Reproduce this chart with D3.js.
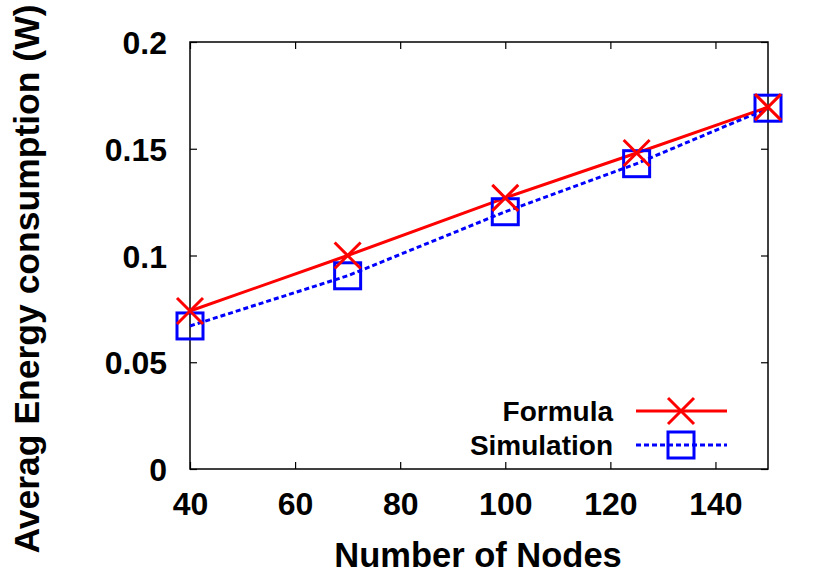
<!DOCTYPE html>
<html>
<head>
<meta charset="utf-8">
<script src="https://cdn.jsdelivr.net/npm/d3@7"></script>
<style>
  html, body { margin: 0; padding: 0; background: #fff; }
  svg text { font-family: "Liberation Sans", Arial, Helvetica, sans-serif; font-weight: bold; fill: #000; }
</style>
</head>
<body>
<svg id="chart" width="830" height="581"></svg>
<script>
const nodes = [40, 70, 100, 125, 150];
const formula = [0.074, 0.100, 0.127, 0.148, 0.1695];
const simulation = [0.067, 0.0905, 0.1205, 0.143, 0.169];
const xTicks = [40, 60, 80, 100, 120, 140];
const yTicks = [0, 0.05, 0.1, 0.15, 0.2];
const yTickLabels = ["0", "0.05", "0.1", "0.15", "0.2"];
const seriesNames = ["Formula", "Simulation"];

const svg = d3.select("#chart");
const L = 190, R = 768, T = 42, B = 469;
const x = d3.scaleLinear().domain([40, 150]).range([L, R]);
const y = d3.scaleLinear().domain([0, 0.2]).range([B, T]);
const tickLen = 7;

// frame
svg.append("rect").attr("x", L).attr("y", T).attr("width", R - L).attr("height", B - T)
  .attr("fill", "none").attr("stroke", "#000").attr("stroke-width", 1.5);

// axes with inward ticks (and mirrored)
const gx = svg.append("g").attr("transform", `translate(0,${B})`)
  .call(d3.axisBottom(x).tickValues(xTicks).tickSize(-tickLen).tickPadding(23).tickFormat(d3.format("d")));
const gxTop = svg.append("g").attr("transform", `translate(0,${T})`)
  .call(d3.axisTop(x).tickValues(xTicks).tickSize(-tickLen).tickFormat(""));
const gy = svg.append("g").attr("transform", `translate(${L},0)`)
  .call(d3.axisLeft(y).tickValues(yTicks).tickSize(-tickLen).tickPadding(23).tickFormat((d, i) => yTickLabels[i]));
const gyR = svg.append("g").attr("transform", `translate(${R},0)`)
  .call(d3.axisRight(y).tickValues(yTicks).tickSize(-tickLen).tickFormat(""));
[gx, gxTop, gy, gyR].forEach(g => {
  g.select(".domain").remove();
  g.selectAll(".tick line").attr("stroke", "#000").attr("stroke-width", 1.2);
});
gx.selectAll(".tick text").attr("font-size", 32).attr("dy", "0.71em");
gy.selectAll(".tick text").attr("font-size", 32).attr("dy", "0.36em");

// axis titles
svg.append("text").attr("x", 478).attr("y", 567).attr("text-anchor", "middle")
  .attr("font-size", 34.5).text("Number of Nodes");
svg.append("text").attr("transform", "translate(39,279) rotate(-90)").attr("text-anchor", "middle")
  .attr("font-size", 35.5).text("Averag Energy consumption (W)");

const line = d3.line().x((d, i) => x(nodes[i])).y(d => y(d));

// Simulation line (dashed blue)
svg.append("path").datum(simulation).attr("d", line)
  .attr("fill", "none").attr("stroke", "#0000ff").attr("stroke-width", 3).attr("stroke-dasharray", "5,3");
// Formula line (solid red)
svg.append("path").datum(formula).attr("d", line)
  .attr("fill", "none").attr("stroke", "#ff0000").attr("stroke-width", 3);

const cs = 13, ss = 13;
function cross(g, cx, cy) {
  g.append("path").attr("d", `M${cx - cs},${cy - cs}L${cx + cs},${cy + cs}M${cx - cs},${cy + cs}L${cx + cs},${cy - cs}`)
    .attr("stroke", "#ff0000").attr("stroke-width", 3).attr("fill", "none");
}
function square(g, cx, cy) {
  g.append("rect").attr("x", cx - ss).attr("y", cy - ss).attr("width", 2 * ss).attr("height", 2 * ss)
    .attr("fill", "none").attr("stroke", "#0000ff").attr("stroke-width", 3);
}
const mk = svg.append("g");
simulation.forEach((v, i) => square(mk, x(nodes[i]), y(v)));
formula.forEach((v, i) => cross(mk, x(nodes[i]), y(v)));

// legend
const leg = svg.append("g");
const legY = [411, 445];
const lx1 = 636, lx2 = 727, lmx = 681;
leg.append("text").attr("x", 613).attr("y", legY[0] + 10).attr("text-anchor", "end").attr("font-size", 28).text(seriesNames[0]);
leg.append("text").attr("x", 613).attr("y", legY[1] + 10).attr("text-anchor", "end").attr("font-size", 28).text(seriesNames[1]);
leg.append("line").attr("x1", lx1).attr("x2", lx2).attr("y1", legY[0]).attr("y2", legY[0])
  .attr("stroke", "#ff0000").attr("stroke-width", 3);
cross(leg, lmx, legY[0]);
leg.append("line").attr("x1", lx1).attr("x2", lx2).attr("y1", legY[1]).attr("y2", legY[1])
  .attr("stroke", "#0000ff").attr("stroke-width", 3).attr("stroke-dasharray", "5,3");
square(leg, lmx, legY[1]);
</script>
</body>
</html>
